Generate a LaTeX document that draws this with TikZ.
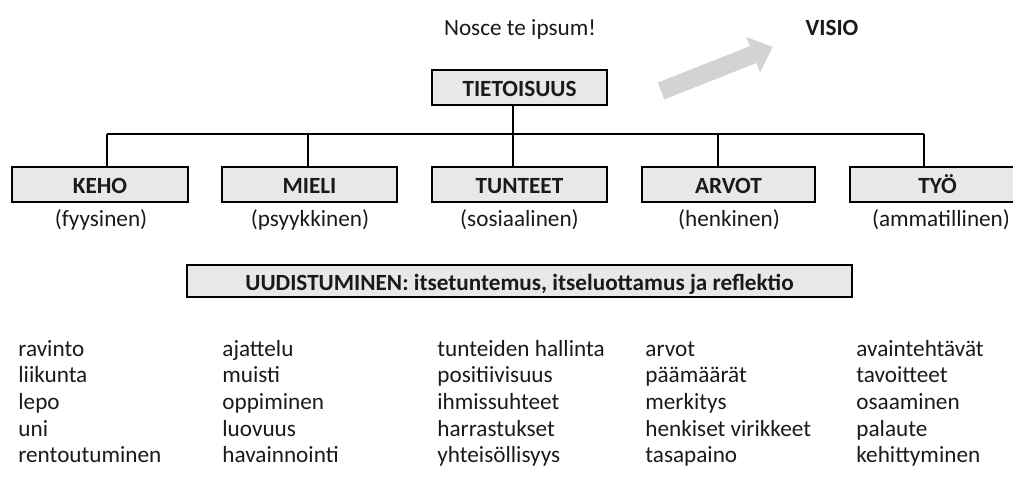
\documentclass[tikz,border=0pt]{standalone}
\usepackage{fontspec}
\setmainfont{Carlito}
\definecolor{boxfill}{HTML}{E8E8E8}
\definecolor{arrowgray}{HTML}{D3D3D3}
\definecolor{txt}{HTML}{1A1A1A}
\begin{document}
\begin{tikzpicture}[x=0.5pt,y=-0.5pt,
  every node/.style={font=\fontsize{11.6}{14}\selectfont, text=txt, inner sep=0pt},
  catbox/.style={draw=black, line width=0.75pt, fill=boxfill, minimum height=17.5pt,
    font=\fontsize{11.6}{14}\selectfont\bfseries, text height=0.9em, text depth=0pt},
  conn/.style={draw=black, line width=0.6pt},
  sub/.style={anchor=base},
  item/.style={anchor=base west}]
\clip (0,0) rectangle (1013,487);
\useasboundingbox (0,0) rectangle (1013,487);

% header texts
\node[anchor=base] (motto) at (520,35) {Nosce te ipsum!};
\node[anchor=base, font=\fontsize{11.6}{14}\selectfont\bfseries] (visio) at (832,35) {VISIO};

% gray arrow
\fill[arrowgray] (664.3,99.4) -- (756.4,63.0) -- (760.1,72.3) -- (772.7,46.9)
  -- (746.1,36.9) -- (749.8,46.2) -- (657.7,82.6) -- cycle;

% top box
\node[catbox, minimum width=87.5pt] (tiet) at (519.5,87.5) {TIETOISUUS};

% category boxes
\node[catbox, minimum width=88pt] (keho) at (100,184.5) {KEHO};
\node[catbox, minimum width=87.5pt] (mieli) at (309.5,184.5) {MIELI};
\node[catbox, minimum width=87.5pt] (tunteet) at (519.5,184.5) {TUNTEET};
\node[catbox, minimum width=86.5pt] (arvot) at (728.5,184.5) {ARVOT};
\node[catbox, minimum width=87.5pt] (tyo) at (937.5,184.5) {TYÖ};

% connectors
\coordinate (c1) at (107,134);
\coordinate (c2) at (308,134);
\coordinate (hub) at (513,134);
\coordinate (c4) at (718,134);
\coordinate (c5) at (924,134);
\draw[conn] (c1) -- (c5);
\draw[conn] (tiet.south -| hub) -- (tunteet.north -| hub);
\draw[conn] (c1) -- (keho.north -| c1);
\draw[conn] (c2) -- (mieli.north -| c2);
\draw[conn] (c4) -- (arvot.north -| c4);
\draw[conn] (c5) -- (tyo.north -| c5);

% subtitles
\node[sub] (s1) at (101,226.5) {(fyysinen)};
\node[sub] (s2) at (310,226.5) {(psyykkinen)};
\node[sub] (s3) at (519.5,226.5) {(sosiaalinen)};
\node[sub] (s4) at (729,226.5) {(henkinen)};
\node[sub] (s5) at (941,226.5) {(ammatillinen)};

% renewal box
\node[catbox, minimum width=332.5pt, minimum height=16pt] (uud) at (519.5,281)
  {UUDISTUMINEN: itsetuntemus, itseluottamus ja reflektio};

% lists
\foreach \col/\x in {1/18, 2/222, 3/437, 4/645, 5/856} {
  \coordinate (col\col) at (\x,0);
}
\node[item] (a1) at (18,356) {ravinto};
\node[item] (a2) at (18,382.7) {liikunta};
\node[item] (a3) at (18,409.3) {lepo};
\node[item] (a4) at (18,436) {uni};
\node[item] (a5) at (18,462.7) {rentoutuminen};

\node[item] (b1) at (222,356) {ajattelu};
\node[item] (b2) at (222,382.7) {muisti};
\node[item] (b3) at (222,409.3) {oppiminen};
\node[item] (b4) at (222,436) {luovuus};
\node[item] (b5) at (222,462.7) {havainnointi};

\node[item] (d1) at (437,356) {tunteiden hallinta};
\node[item] (d2) at (437,382.7) {positiivisuus};
\node[item] (d3) at (437,409.3) {ihmissuhteet};
\node[item] (d4) at (437,436) {harrastukset};
\node[item] (d5) at (437,462.7) {yhteisöllisyys};

\node[item] (e1) at (645,356) {arvot};
\node[item] (e2) at (645,382.7) {päämäärät};
\node[item] (e3) at (645,409.3) {merkitys};
\node[item] (e4) at (645,436) {henkiset virikkeet};
\node[item] (e5) at (645,462.7) {tasapaino};

\node[item] (f1) at (856,356) {avaintehtävät};
\node[item] (f2) at (856,382.7) {tavoitteet};
\node[item] (f3) at (856,409.3) {osaaminen};
\node[item] (f4) at (856,436) {palaute};
\node[item] (f5) at (856,462.7) {kehittyminen};
\end{tikzpicture}
\end{document}
